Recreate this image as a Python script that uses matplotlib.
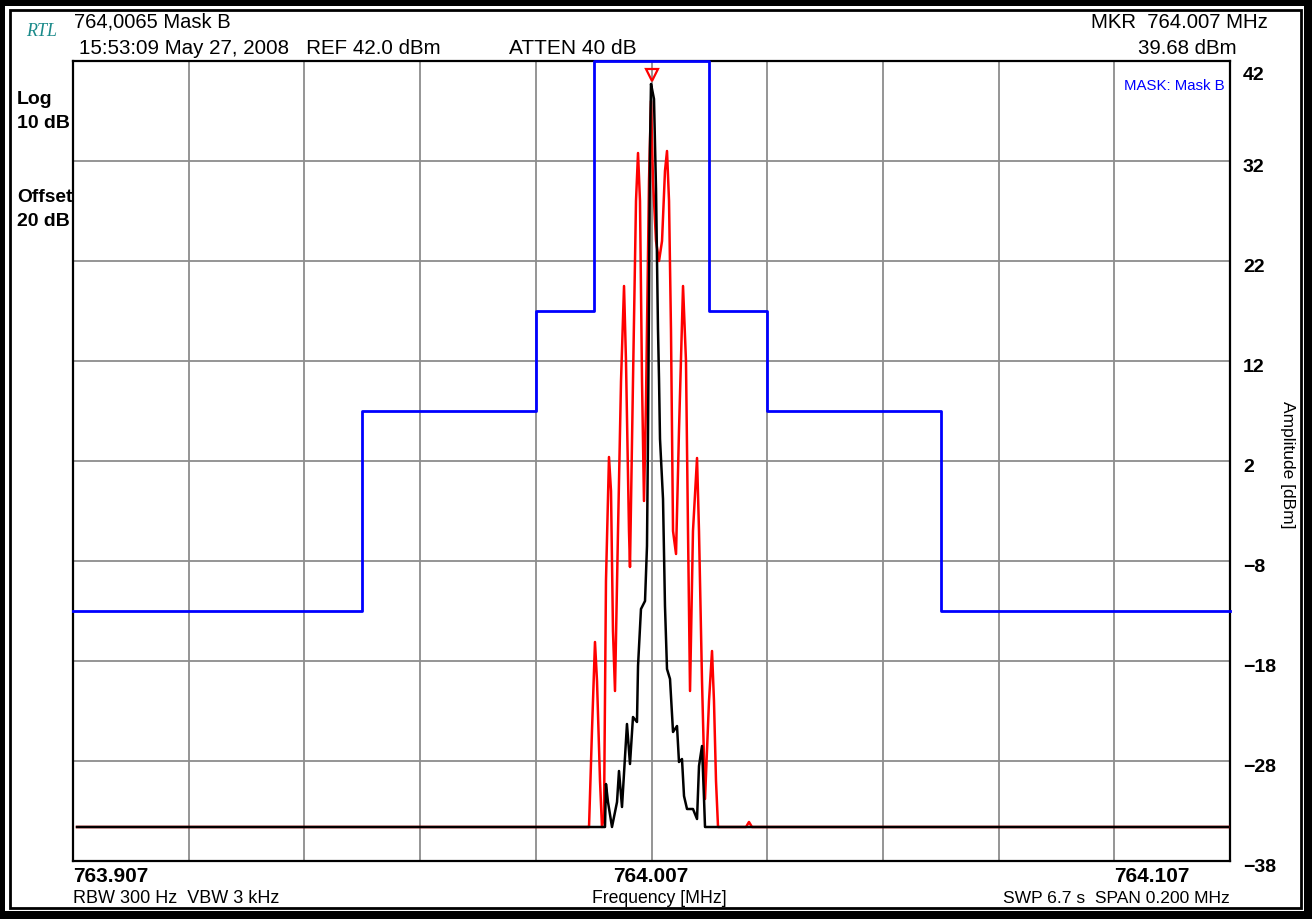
import numpy as np
import matplotlib.pyplot as plt
from matplotlib.patches import Rectangle
from matplotlib.transforms import offset_copy, blended_transform_factory

plt.rcParams['font.family'] = ['Liberation Sans', 'DejaVu Sans']

# centro del barrido y marcador
f_center = 764.007          # MHz
mkr_level = 39.68           # dBm

# mascara (offset en kHz, nivel en dBm)
mask_khz = [-100, -50, -50, -20, -20, -10, -10, 10, 10, 20, 20, 50, 50, 100]
mask_dbm = [-13, -13, 7, 7, 17, 17, 42, 42, 17, 17, 7, 7, -13, -13]

# traza roja (offset kHz, dBm)
red_khz = [-99.3, -10.98, -10.80, -10.29, -9.77, -9.42, -8.90, -8.56, -8.21, -7.87,
           -7.35, -7.00, -6.66, -6.31, -5.79, -5.27, -4.75, -4.41, -3.89, -3.72,
           -3.20, -2.68, -2.33, -1.99, -1.64, -1.30, -0.95, -0.43, -0.09, 0.26,
           0.78, 1.30, 1.82, 2.33, 2.68, 3.03, 3.37, 3.72, 4.24, 4.75,
           5.45, 5.96, 6.31, 6.66, 7.17, 7.87, 8.21, 8.73, 9.25, 9.94,
           10.46, 10.80, 11.15, 11.50, 16.34, 16.85, 17.37, 99.7]
red_dbm = [-34.6, -34.6, -34.6, -25.0, -16.1, -20.0, -30.0, -34.6, -33.5, -10.0,
           2.4, -1.0, -15.0, -21.0, -5.0, 10.0, 19.5, 12.0, -5.0, -8.6,
           10.0, 28.0, 32.8, 28.0, 10.0, -2.0, 8.0, 30.0, 38.0, 30.0,
           24.0, 22.0, 24.0, 31.0, 33.0, 28.0, 15.0, -5.0, -7.3, 5.0,
           19.5, 12.0, -5.0, -21.0, -5.0, 2.3, -5.0, -20.0, -31.8, -22.0,
           -17.0, -22.0, -30.0, -34.6, -34.6, -34.1, -34.6, -34.6]

# traza negra (offset kHz, dBm)
blk_khz = [-99.3, -8.04, -7.87, -7.52, -6.83, -5.96, -5.62, -5.10, -4.24, -3.72,
           -3.20, -2.51, -2.33, -1.82, -1.12, -0.78, -0.61, -0.43, -0.26, -0.09,
           0.09, 0.43, 0.78, 1.12, 1.30, 1.47, 1.99, 2.33, 2.68, 3.20,
           3.72, 4.41, 4.75, 5.27, 5.62, 6.14, 7.17, 7.87, 8.21, 8.73,
           9.08, 9.25, 99.7]
blk_dbm = [-34.6, -34.6, -30.3, -32.1, -34.6, -32.1, -29.0, -32.6, -24.3, -28.3,
           -23.6, -24.1, -18.5, -12.8, -12.0, -6.5, 4.2, 18.2, 33.2, 39.7,
           39.2, 38.2, 29.2, 15.2, 10.2, 4.2, -1.8, -12.5, -18.8, -19.8,
           -25.1, -24.5, -28.1, -27.8, -31.5, -32.8, -32.8, -33.8, -28.5, -26.5,
           -31.8, -34.6, -34.6]

y_ticks = [42, 32, 22, 12, 2, -8, -18, -28, -38]
x_edges = [763.907, 764.107]


def to_mhz(k):
    return f_center + np.array(k) / 1000.0


W, H = 1312, 920
fig = plt.figure(figsize=(W / 100, H / 100), dpi=100)
ax = fig.add_axes([73 / W, 1 - 862 / H, (1230 - 73) / W, 800 / H])

ax.set_xlim(x_edges)
ax.set_ylim(-38, 42)
ax.set_xticks(np.linspace(x_edges[0], x_edges[1], 11))
ax.set_yticks(y_ticks)
ax.grid(True, color='#8c8c8c', linewidth=1.3)
ax.set_xticklabels([])
ax.set_yticklabels([])
ax.tick_params(length=0)
for s in ax.spines.values():
    s.set_linewidth(1.6)

ax.plot(to_mhz(mask_khz), mask_dbm, color='#0000ff', lw=2, clip_on=False, zorder=5)
ax.plot(to_mhz(red_khz), red_dbm, color='#ff0000', lw=1.8, zorder=3)
ax.plot(to_mhz(blk_khz), blk_dbm, color='black', lw=1.8, zorder=4)

# marcador
tr = offset_copy(ax.transData, fig=fig, x=0, y=9, units='dots')
ax.plot([f_center], [mkr_level], marker='v', ms=9, mfc='none', mec='#ff0000',
        mew=1.6, transform=tr, zorder=6)

# etiquetas del eje y (a la derecha, un poco por debajo de la linea)
ytr = blended_transform_factory(ax.transAxes, ax.transData)
for v in y_ticks:
    dy = -14 if v == y_ticks[0] else -6
    ax.text(1.0, v, str(v).replace('-', '\u2212'), fontsize=14, fontweight='bold',
            va='center', ha='left',
            transform=offset_copy(ytr, fig=fig, x=13, y=dy, units='dots'))

ax.text(0.995, 0.97, 'MASK: Mask B', transform=ax.transAxes, ha='right', va='center',
        color='#0000ff', fontsize=10.8)


def ftext(px, py, s, **kw):
    fig.text(px / W, 1 - py / H, s, **kw)


ftext(26, 32, 'RTL', family='Liberation Serif', style='italic', color='#1a8a8a',
      fontsize=13, va='center')
ftext(74, 22, '764,0065 Mask B', fontsize=14.5, va='center')
ftext(79, 49, '15:53:09 May 27, 2008   REF 42.0 dBm', fontsize=14.8, va='center')
ftext(509, 49, 'ATTEN 40 dB', fontsize=15, va='center')
ftext(1268, 22, 'MKR  764.007 MHz', fontsize=14.7, va='center', ha='right')
ftext(1237, 49, '39.68 dBm', fontsize=14.7, va='center', ha='right')

ftext(17, 100, 'Log', fontsize=14, fontweight='bold', va='center')
ftext(17, 124, '10 dB', fontsize=14, fontweight='bold', va='center')
ftext(17, 197, 'Offset', fontsize=13.8, fontweight='bold', va='center')
ftext(17, 221, '20 dB', fontsize=14, fontweight='bold', va='center')

ftext(1288, 465, 'Amplitude [dBm]', fontsize=12.5, rotation=-90, va='center', ha='center')

ftext(73, 876, '763.907', fontsize=15, fontweight='bold', va='center')
ftext(651, 876, '764.007', fontsize=15, fontweight='bold', va='center', ha='center')
ftext(1152, 876, '764.107', fontsize=15, fontweight='bold', va='center', ha='center')
ftext(73, 899, 'RBW 300 Hz  VBW 3 kHz', fontsize=13, va='center')
ftext(659, 899, 'Frequency [MHz]', fontsize=12.7, va='center', ha='center')
ftext(1230, 899, 'SWP 6.7 s  SPAN 0.200 MHz', fontsize=12.6, va='center', ha='right')

# marco negro
for (x0, y0, w, h) in [(0, 0, W, 7), (0, 0, 5, H), (W - 8, 0, 8, H), (0, H - 8, W, 8)]:
    fig.add_artist(Rectangle((x0 / W, 1 - (y0 + h) / H), w / W, h / H,
                             transform=fig.transFigure, color='black', lw=0))
fig.add_artist(Rectangle((10 / W, 1 - 909 / H), (1301 - 10) / W, (909 - 11) / H,
                         transform=fig.transFigure, fill=False, ec='black', lw=2))

fig.savefig('out.png', dpi=100)
